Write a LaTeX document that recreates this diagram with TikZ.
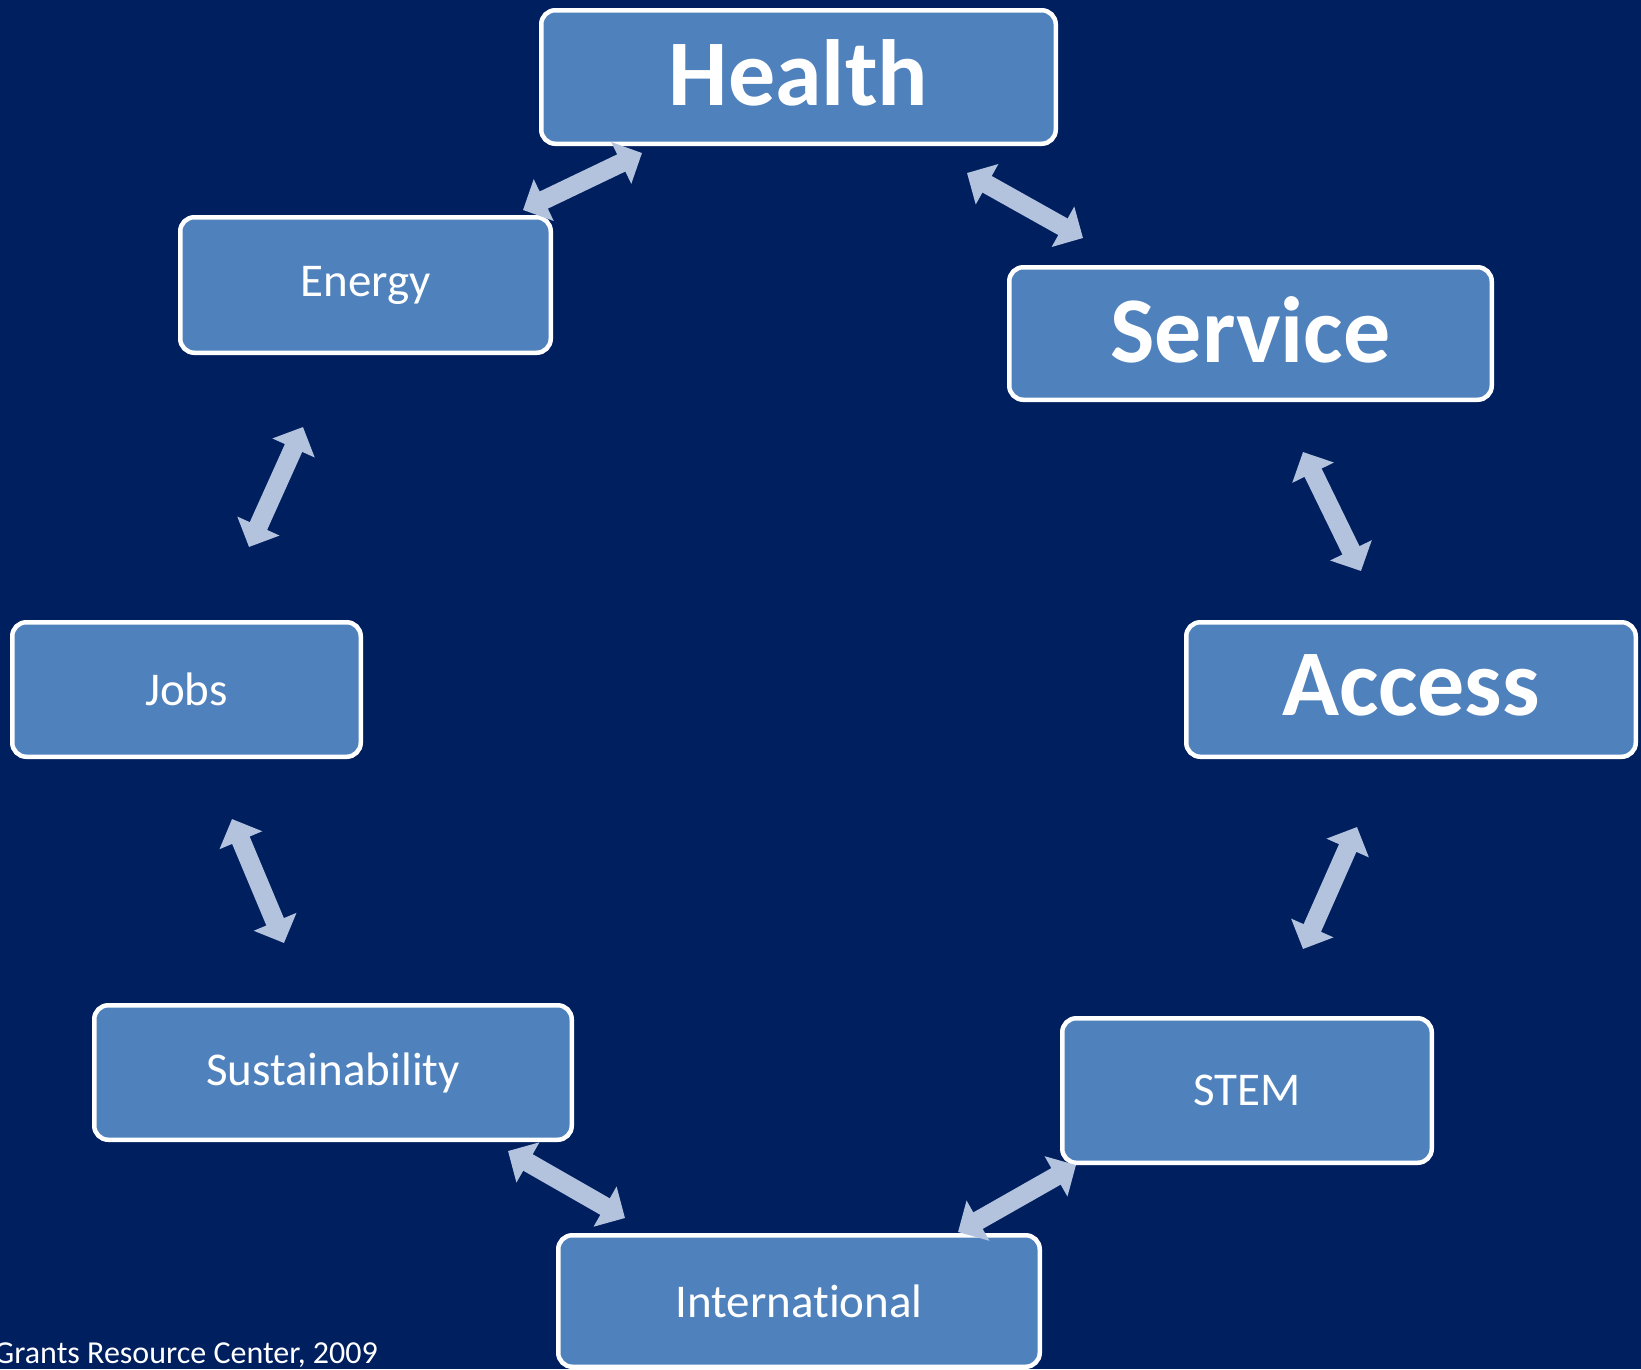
\documentclass[tikz,border=0pt]{standalone}
\usepackage{fontspec}
\setmainfont{Carlito}[Ligatures={NoCommon,NoRare}]
\usetikzlibrary{arrows.meta}
\definecolor{navybg}{RGB}{0,31,95}
\definecolor{boxblue}{RGB}{79,129,189}
\definecolor{arrowblue}{RGB}{179,195,221}
\tikzset{
  topic/.style={draw=white, line width=4.5pt, fill=boxblue, rounded corners=14pt,
    text=white, inner sep=0pt, font=\fontsize{47}{50}\selectfont},
  bigtopic/.style={topic, text depth=8pt, font=\fontsize{94}{100}\selectfont\bfseries},
  dblarrow/.style={draw=arrowblue, line width=19pt, line cap=butt,
    {Triangle[width=45pt,length=23pt]}-{Triangle[width=45pt,length=23pt]}}
}

\begin{document}
\begin{tikzpicture}[x=1pt,y=-1pt]
  \useasboundingbox (0,0) rectangle (1641,1369);
  \fill[navybg] (0,0) rectangle (1641,1369);

  \node[bigtopic, minimum width=514.5pt, minimum height=133.5pt] (health) at (798.5,77) {Health};
  \node[topic, minimum width=370.5pt, minimum height=135.5pt] (energy) at (365.5,285) {Energy};
  \node[bigtopic, minimum width=482.5pt, minimum height=132.5pt] (service) at (1250.5,333.5) {Service};
  \node[topic, minimum width=348.5pt, minimum height=134.5pt] (jobs) at (186.5,689.5) {Jobs};
  \node[bigtopic, minimum width=449.5pt, minimum height=134.5pt] (access) at (1411,689.5) {Access};
  \node[topic, minimum width=477.5pt, minimum height=134.5pt] (sustain) at (333,1072.5) {Sustainability};
  \node[topic, minimum width=369.5pt, minimum height=144.5pt] (stem) at (1247,1090.5) {STEM};
  \node[topic, minimum width=481.5pt, minimum height=131.5pt] (intl) at (799,1301) {International};

  \coordinate (he-a) at (642,153);  \coordinate (he-b) at (523,210);
  \coordinate (hs-a) at (967,173);  \coordinate (hs-b) at (1083,238);
  \coordinate (ej-a) at (303,427);  \coordinate (ej-b) at (249,547);
  \coordinate (sa-a) at (1303,452); \coordinate (sa-b) at (1361,571);
  \coordinate (js-a) at (232,819);  \coordinate (js-b) at (284,943);
  \coordinate (as-a) at (1357,827); \coordinate (as-b) at (1303,949);
  \coordinate (si-a) at (508,1151); \coordinate (si-b) at (625,1218);
  \coordinate (ti-a) at (1076,1165); \coordinate (ti-b) at (958,1232);

  \draw[dblarrow] (he-a) -- (he-b);
  \draw[dblarrow] (hs-a) -- (hs-b);
  \draw[dblarrow] (ej-a) -- (ej-b);
  \draw[dblarrow] (sa-a) -- (sa-b);
  \draw[dblarrow] (js-a) -- (js-b);
  \draw[dblarrow] (as-a) -- (as-b);
  \draw[dblarrow] (si-a) -- (si-b);
  \draw[dblarrow] (ti-a) -- (ti-b);

  \node[anchor=base west, text=white, inner sep=0pt, font=\fontsize{32}{34}\selectfont]
    (credit) at (-6,1363) {Grants Resource Center, 2009};
\end{tikzpicture}
\end{document}
